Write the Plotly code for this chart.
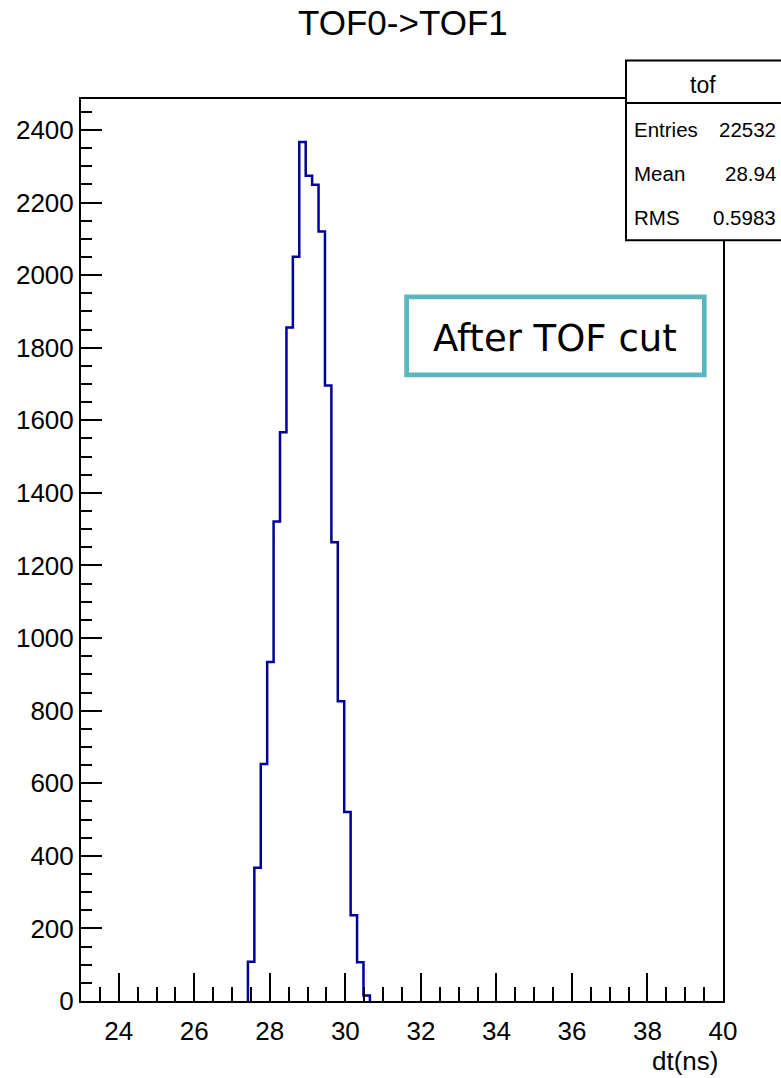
import numpy as np
import plotly.graph_objects as go

# Histogram definition: 100 bins over 23-40 ns, only bins 26..44 are filled
x_min, x_max, n_bins = 23.0, 40.0, 100
first_filled_bin = 26
counts = [108, 367, 653, 934, 1321, 1567, 1856, 2051, 2367, 2274,
          2249, 2120, 1696, 1264, 826, 521, 236, 107, 15]

stats_labels = ["Entries", "Mean", "RMS"]
stats_values = ["22532", "28.94", "0.5983"]

W, H = 781, 1078
L, R, T, B = 81, 723, 98.5, 1001.5

bin_width = (x_max - x_min) / n_bins
edges = x_min + bin_width * (first_filled_bin + np.arange(len(counts) + 1))
xs = [edges[0]] + list(edges)
ys = [0] + counts + [0]

y_top = 1.05 * max(counts)

SANS = "Liberation Sans, Arial, sans-serif"


def px(x):
    return (x - L) / (R - L)


def py(y):
    return (B - y) / (B - T)


fig = go.Figure()
fig.add_trace(go.Scatter(
    x=xs, y=ys, mode="lines", line=dict(shape="hv", color="#000099", width=2.5),
    hoverinfo="skip", showlegend=False,
))

axis_font = dict(family=SANS, size=26, color="black")

fig.update_xaxes(
    range=[x_min, x_max], showgrid=False, zeroline=False,
    showline=True, mirror=True, linecolor="black", linewidth=2,
    ticks="inside", ticklen=28, tickwidth=2, tickcolor="black",
    tick0=24, dtick=2, tickfont=axis_font, ticklabelstandoff=6,
    minor=dict(ticks="inside", ticklen=14, tickwidth=2, tickcolor="black", dtick=0.5, tick0=23),
)
fig.update_yaxes(
    range=[0, y_top], showgrid=False, zeroline=False,
    showline=True, mirror=True, linecolor="black", linewidth=2,
    ticks="inside", ticklen=21, tickwidth=2, tickcolor="black",
    tick0=0, dtick=200, tickfont=axis_font,
    minor=dict(ticks="inside", ticklen=11, tickwidth=2, tickcolor="black", dtick=50),
)

shapes = [
    # statistics box
    dict(type="rect", xref="paper", yref="paper",
         x0=px(626), x1=px(800), y0=py(240), y1=py(60),
         line=dict(color="black", width=2), fillcolor="white", layer="above"),
    dict(type="line", xref="paper", yref="paper",
         x0=px(626), x1=px(800), y0=py(102.5), y1=py(102.5),
         line=dict(color="black", width=2), layer="above"),
    # highlighted label box
    dict(type="rect", xref="paper", yref="paper",
         x0=px(406.6), x1=px(704.3), y0=py(374.7), y1=py(296.6),
         line=dict(color="#5BB7BF", width=4.7), fillcolor="white", layer="above"),
]

annotations = [
    dict(text="TOF0->TOF1", xref="paper", yref="paper", x=px(403), y=py(22),
         xanchor="center", yanchor="middle", showarrow=False,
         font=dict(family=SANS, size=35, color="black")),
    dict(text="dt(ns)", xref="paper", yref="paper", x=px(720), y=py(1062),
         xanchor="right", yanchor="middle", showarrow=False,
         font=dict(family=SANS, size=26, color="black")),
    dict(text="tof", xref="paper", yref="paper", x=px(703), y=py(84),
         xanchor="center", yanchor="middle", showarrow=False,
         font=dict(family=SANS, size=23, color="black")),
    dict(text="After TOF cut", xref="paper", yref="paper", x=px(555), y=py(338),
         xanchor="center", yanchor="middle", showarrow=False,
         font=dict(family="DejaVu Sans, sans-serif", size=37, color="black")),
]
for i, (lab, val) in enumerate(zip(stats_labels, stats_values)):
    yy = 129 + 44 * i
    annotations.append(dict(text=lab, xref="paper", yref="paper", x=px(632), y=py(yy),
                            xanchor="left", yanchor="middle", showarrow=False,
                            font=dict(family=SANS, size=20.5, color="black")))
    annotations.append(dict(text=val, xref="paper", yref="paper", x=px(778), y=py(yy),
                            xanchor="right", yanchor="middle", showarrow=False,
                            font=dict(family=SANS, size=20.5, color="black")))

fig.update_layout(
    width=W, height=H, autosize=False,
    margin=dict(l=L, r=W - R, t=T, b=H - B, pad=0),
    paper_bgcolor="white", plot_bgcolor="white",
    shapes=shapes, annotations=annotations,
)

fig.write_html("out.html")
